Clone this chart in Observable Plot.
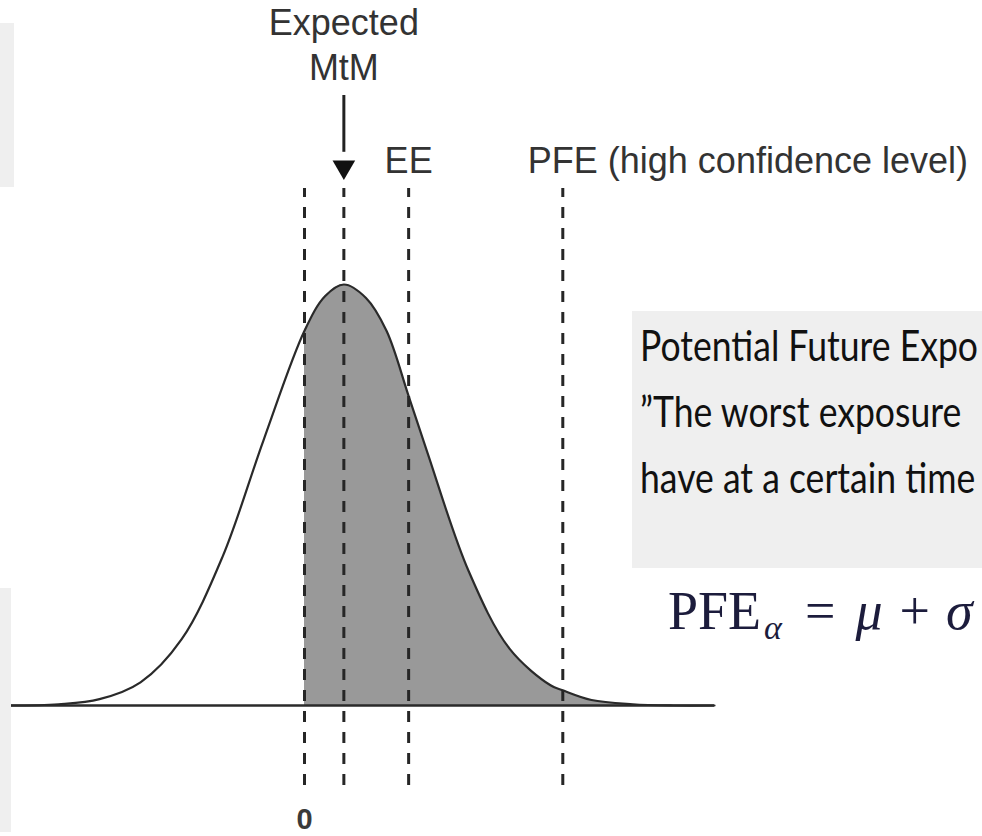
<!DOCTYPE html>
<html>
<head>
<meta charset="utf-8">
<script src="https://cdn.jsdelivr.net/npm/d3@7"></script>
<script src="https://cdn.jsdelivr.net/npm/@observablehq/plot@0.6"></script>
<style>
  html, body { margin: 0; padding: 0; width: 982px; height: 836px; overflow: hidden; background: #fff; }
  #wrap { position: relative; width: 982px; height: 836px; overflow: hidden; }
  #chart { position: absolute; left: 0; top: 0; }
  .box { position: absolute; background: #efefef; }
  .note { position: absolute; left: 640px; white-space: nowrap; font-family: Lato, "Open Sans", sans-serif; font-size: 42px; line-height: 42px; color: #111; transform-origin: 0 0; }
  #formula { position: absolute; left: 668px; top: 584px; white-space: nowrap; font-family: "Liberation Serif", "DejaVu Serif", serif; font-size: 54px; line-height: 54px; color: #1c1c3c; }
  #formula i { font-style: italic; }
  #formula sub { font-size: 34px; vertical-align: -10px; line-height: 0; margin-left: 3px; }
</style>
</head>
<body>
<div id="wrap">
  <div id="chart"></div>
  <div class="box" style="left:0;top:23px;width:14px;height:164px"></div>
  <div class="box" style="left:0;top:588px;width:11px;height:244px"></div>
  <div class="box" style="left:632px;top:311px;width:360px;height:257px"></div>
  <div id="notes"></div>
  <div id="formula">PFE<sub><i>α</i></sub><span style="margin-left:23px">=</span><i style="margin-left:20px">μ</i><span style="margin-left:17px">+</span><i style="margin-left:16px">σ</i></div>
</div>
<script>
// Exposure distribution (x in arbitrary exposure units, density relative to peak)
const xs   = [-3.6, -3.0, -2.5, -2.0, -1.5, -1.0, -0.5, 0.0, 0.25, 0.48, 0.75, 1.0, 1.27, 1.5, 2.0, 2.5, 3.0, 3.15, 3.5, 4.0, 4.5, 5.0];
const dens = [0.0, 0.003, 0.015, 0.055, 0.157, 0.353, 0.63, 0.89, 0.972, 1.0, 0.968, 0.89, 0.735, 0.6, 0.32, 0.135, 0.048, 0.036, 0.013, 0.003, 0.0, 0.0];

// Reference levels (dashed lines)
const markerNames = ["0", "Expected MtM", "EE", "PFE"];
const markerX     = [0, 0.48, 1.27, 3.15];

// Labels
const zeroLabel = "0";
const mtmLabel  = "Expected\nMtM";
const eeLabel   = "EE";
const pfeLabel  = "PFE (high confidence level)";

// Side note (visible part, cropped at the slide edge)
const noteLines = ["Potential Future Expo", "”The worst exposure", "have at a certain time"];

const curve   = xs.map((x, i) => ({x, d: dens[i]}));
const shaded  = curve.filter(p => p.x >= 0);
const markers = markerNames.map((name, i) => ({name, x: markerX[i]}));
const mtm = markers.find(m => m.name === "Expected MtM").x;
const ee  = markers.find(m => m.name === "EE").x;
const pfe = markers.find(m => m.name === "PFE").x;

const ink = "#333";
const chart = Plot.plot({
  width: 982,
  height: 836,
  marginTop: 284,
  marginBottom: 131,
  marginLeft: 0,
  marginRight: 0,
  x: {domain: [-304 / 82, (982 - 304) / 82], axis: null},
  y: {domain: [0, 1], axis: null},
  style: {background: "transparent", fontFamily: "'Liberation Sans', Arial, sans-serif", overflow: "visible"},
  marks: [
    Plot.areaY(shaded, {x: "x", y: "d", fill: "#999", curve: "catmull-rom"}),
    Plot.line(curve, {x: "x", y: "d", stroke: "#2a2a2a", strokeWidth: 2.2, curve: "catmull-rom"}),
    Plot.ruleY([0], {x1: xs[0], x2: xs[xs.length - 1], stroke: "#2a2a2a", strokeWidth: 2.6}),
    Plot.ruleX(markers, {x: "x", y1: -0.19, y2: 1.228, stroke: "#262626", strokeWidth: 3, strokeDasharray: "11,10"}),
    // arrow pointing to expected MtM
    Plot.ruleX([mtm], {y1: 1.314, y2: 1.449, stroke: "#222", strokeWidth: 3}),
    Plot.dot([mtm], {x: d => d, y: 1.279, symbol: "triangle", r: 8.4, rotate: 180, fill: "#111", stroke: "none"}),
    Plot.text([mtmLabel], {x: mtm, y: 1.485, text: d => d, lineAnchor: "bottom", lineHeight: 1.25, fontSize: 36, fill: ink}),
    Plot.text([eeLabel], {x: ee, y: 1.264, text: d => d, lineAnchor: "bottom", fontSize: 36, fill: ink}),
    Plot.text([pfeLabel], {x: pfe, y: 1.264, text: d => d, lineAnchor: "bottom", textAnchor: "start", dx: -35, fontSize: 36, fill: ink}),
    Plot.text([zeroLabel], {x: 0, y: -0.294, text: d => d, lineAnchor: "bottom", fontSize: 29, fontWeight: "bold", fill: "#3a3a3a"})
  ]
});
document.getElementById("chart").appendChild(chart);

// side note lines: condensed to fit the visible width of the slide
const ctx = document.createElement("canvas").getContext("2d");
ctx.font = "42px Lato";
const sx = 338 / ctx.measureText(noteLines[0]).width;
const tops = [324, 390, 456];
const notes = document.getElementById("notes");
noteLines.forEach((t, i) => {
  const div = document.createElement("div");
  div.className = "note";
  div.style.top = tops[i] + "px";
  div.style.transform = `scaleX(${sx})`;
  div.textContent = t;
  notes.appendChild(div);
});
</script>
</body>
</html>
